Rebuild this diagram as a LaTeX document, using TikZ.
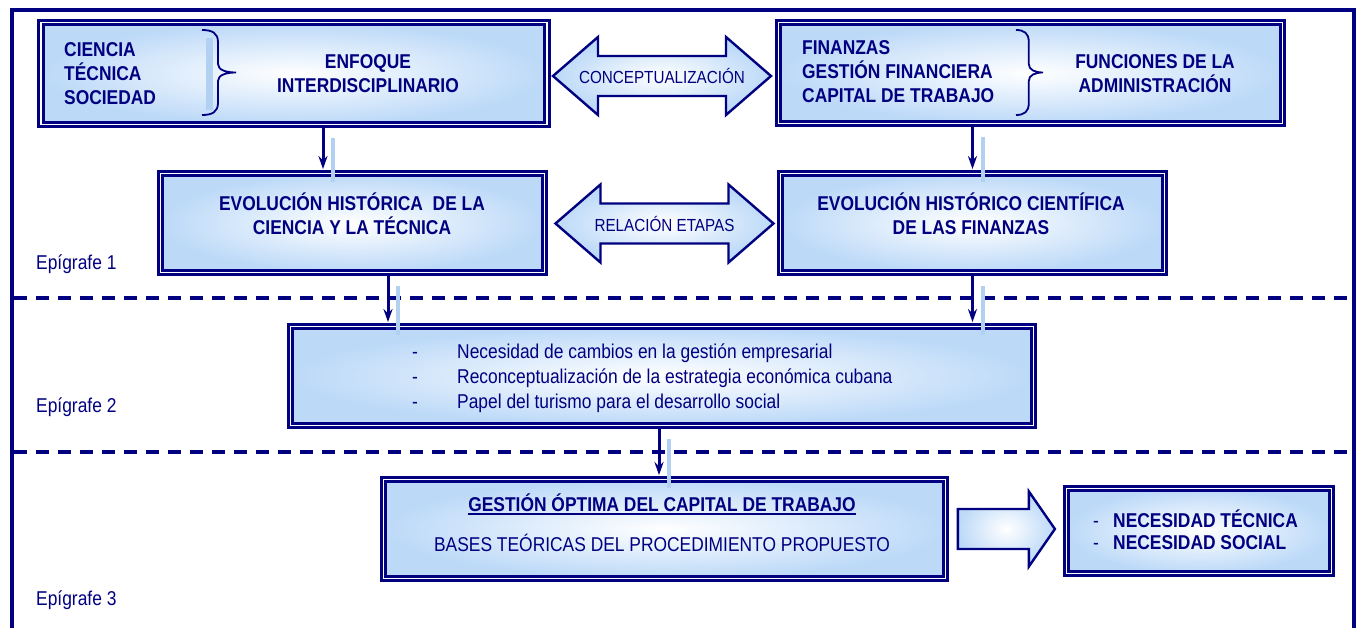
\documentclass[tikz,border=0pt]{standalone}
\usepackage{fontspec}
\setmainfont{Liberation Sans}[FakeStretch=0.87]
\usepackage{tikz}
\usetikzlibrary{arrows.meta}
\definecolor{dgnavy}{RGB}{0,0,128}
\definecolor{dgblue}{RGB}{188,217,248}
\definecolor{dgpale}{RGB}{178,208,242}
\tikzset{
  dgbox/.style={draw=dgnavy, double=white, line width=2.8pt, double distance=1.6pt, shade, inner color=white, outer color=dgblue, inner sep=0pt},
  dgarrow/.style={draw=dgnavy, line width=2.4pt, line join=miter, shade, inner color=white, outer color=dgblue},
  dglabel/.style={text=dgnavy, inner sep=0pt, align=center, font=\fontsize{20}{24}\selectfont},
  dgbold/.style={dglabel, font=\fontsize{20}{24}\selectfont\bfseries},
  dgarrowlabel/.style={dglabel, font=\fontsize{17.5}{20}\selectfont},
  dgconn/.style={draw=dgnavy, line width=3pt, -{Stealth[length=13pt,width=9pt]}, shorten >=3pt},
  dgshadow/.style={draw=dgpale, line width=4pt},
  dgsep/.style={draw=dgnavy, line width=3.5pt, dash pattern=on 13pt off 9pt},
  dgframe/.style={draw=dgnavy, line width=4pt},
  dgbrace/.style={draw=dgnavy, line width=1.8pt}
}
\newcommand{\dgbox}[4]{\node at (#1) (#2) [dgbox, minimum width=#3pt, minimum height=#4pt] {};}
\newcommand{\dgbrace}[2]{\draw [dgbrace, shift={(#1)}, xscale=#2] (0,0) .. controls (10,0) and (16,3) .. (16,12) -- (16,34) .. controls (16,40) and (24,42.5) .. (34,42.5) .. controls (24,42.5) and (16,45) .. (16,51) -- (16,73) .. controls (16,82) and (10,85) .. (0,85);}
\newcommand{\dgdoublearrow}[3]{\draw [dgarrow, shift={(#1)}] (-109,0) -- (-64,-39) -- (-64,-20) -- (64,-20) -- (64,-39) -- (109,0) -- (64,39) -- (64,20) -- (-64,20) -- (-64,39) -- cycle; \node at (#1) (#2) [dgarrowlabel] {#3};}
\newcommand{\dgconnect}[2]{\draw [dgshadow] ([xshift=10pt,yshift=-12pt]#1) -- ([xshift=10pt,yshift=-10pt]#2); \draw [dgconn] (#1) -- (#2);}
\newcommand{\dgul}[1]{\setbox0\hbox{#1}\rlap{\rule[-3pt]{\wd0}{1.6pt}}\box0}

\begin{document}
\begin{tikzpicture}[x=1pt, y=-1pt]
\useasboundingbox (0,0) rectangle (1361,628);

\draw [dgframe] (12,640) -- (12,10) -- (1354,10) -- (1354,640);
\draw [dgsep] (14,298) -- (1352,298);
\draw [dgsep] (14,452) -- (1352,452);

\dgbox {294,73.5}{cts}{506}{102}
\dgbox {1030.5,73}{finanzas}{504}{101}
\dgbox {352.5,223}{evcien}{384}{99}
\dgbox {972.5,223}{evfin}{384}{99}
\dgbox {662,376}{cambios}{743}{99}
\dgbox {664.5,529}{gestion}{562}{99}
\dgbox {1199,531}{necesidad}{265}{85}

\draw [dgshadow, line width=7pt] (209,38) -- (209,110);
\dgbrace {202,30}{1}
\dgbrace {1016,30}{0.8}

\dgdoublearrow {662,76}{concepto}{CONCEPTUALIZACIÓN}
\dgdoublearrow {664.5,223.5}{relacion}{RELACIÓN ETAPAS}

\coordinate (gestion2) at ([xshift=11pt]gestion.east);
\draw [dgarrow, shift={(gestion2)}] (0,-20) -- (71,-20) -- (71,-37.5) -- (97,0) -- (71,37.5) -- (71,20) -- (0,20) -- cycle;

\coordinate (cts1) at ([xshift=29pt]cts.south);
\coordinate (evcien1) at (cts1 |- evcien.north);
\dgconnect {cts1}{evcien1}
\coordinate (finanzas1) at (evfin.north |- finanzas.south);
\dgconnect {finanzas1}{evfin.north}
\coordinate (evcien2) at ([xshift=35.5pt]evcien.south);
\coordinate (cambios1) at (evcien2 |- cambios.north);
\dgconnect {evcien2}{cambios1}
\coordinate (cambios2) at (evfin.south |- cambios.north);
\dgconnect {evfin.south}{cambios2}
\coordinate (cambios3) at ([xshift=-3pt]cambios.south);
\coordinate (gestion1) at (cambios3 |- gestion.north);
\dgconnect {cambios3}{gestion1}

\node at (64,74) (ctslist) [dgbold, anchor=west, align=left] {CIENCIA\\TÉCNICA\\SOCIEDAD};
\node at (368,73.5) (ctsenf) [dgbold] {ENFOQUE\\INTERDISCIPLINARIO};
\node at (802,72) (finlist) [dgbold, anchor=west, align=left] {FINANZAS\\GESTIÓN FINANCIERA\\CAPITAL DE TRABAJO};
\node at (1155,73.5) (finfun) [dgbold] {FUNCIONES DE LA\\ADMINISTRACIÓN};
\node at (352,214) (evcientxt) [dgbold] {EVOLUCIÓN HISTÓRICA\ \ DE LA\\CIENCIA Y LA TÉCNICA};
\node at (971,214) (evfintxt) [dgbold] {EVOLUCIÓN HISTÓRICO CIENTÍFICA\\DE LAS FINANZAS};
\node at (412,378.5) (cambiostxt) [dglabel, anchor=west, align=left, font=\fontsize{20}{25}\selectfont] {\makebox[45pt][l]{-}Necesidad de cambios en la gestión empresarial\\\makebox[45pt][l]{-}Reconceptualización de la estrategia económica cubana\\\makebox[45pt][l]{-}Papel del turismo para el desarrollo social};
\node at (662,523) (gestiontxt) [dglabel] {{\bfseries\dgul{GESTIÓN ÓPTIMA DEL CAPITAL DE TRABAJO}}\\[16pt]BASES TEÓRICAS DEL PROCEDIMIENTO PROPUESTO};
\node at (1093,529.5) (necesidadtxt) [dgbold, anchor=west, align=left, font=\fontsize{20}{22}\selectfont\bfseries] {\makebox[20pt][l]{\mdseries -}NECESIDAD TÉCNICA\\\makebox[20pt][l]{\mdseries -}NECESIDAD SOCIAL};

\node at (36,270) (epi1) [dglabel, anchor=base west] {Epígrafe 1};
\node at (36,413) (epi2) [dglabel, anchor=base west] {Epígrafe 2};
\node at (36,605) (epi3) [dglabel, anchor=base west] {Epígrafe 3};
\end{tikzpicture}
\end{document}
